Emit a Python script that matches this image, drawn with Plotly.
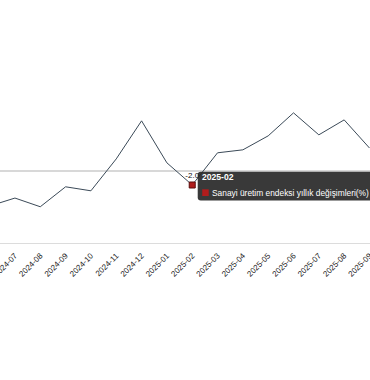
import plotly.graph_objects as go

months = ["2024-06", "2024-07", "2024-08", "2024-09", "2024-10", "2024-11", "2024-12",
          "2025-01", "2025-02", "2025-03", "2025-04", "2025-05", "2025-06", "2025-07",
          "2025-08", "2025-09"]
values = [-4.9, -3.8, -5.0, -2.25, -2.8, 1.6, 6.85, 1.06, -2.0, 2.44, 2.85, 4.78, 7.95,
          4.92, 6.98, 3.1]
series_name = "Sanayi üretim endeksi yıllık değişimleri(%)"
hover_month = "2025-02"
hover_value = values[months.index(hover_month)]

FONT = "Liberation Sans, Arial, sans-serif"

fig = go.Figure()
fig.add_trace(go.Scatter(
    x=months, y=values, mode="lines",
    line=dict(color="#3b4a58", width=1),
    hoverinfo="skip", showlegend=False,
))
# highlighted point with its data label
fig.add_trace(go.Scatter(
    x=[hover_month], y=[hover_value], mode="markers+text",
    marker=dict(symbol="square", size=6, color="#b01c1c",
                line=dict(color="#5a0d0d", width=1)),
    text=[f"{hover_value:.1f}"], textposition="top center",
    textfont=dict(family=FONT, size=8, color="#111"),
    hoverinfo="skip", showlegend=False,
))

# tooltip box (anchored to the hovered point, pixel offsets)
r = 3
x0, x1, y0, y1 = 5.5, 200, -15.5, 13.3
path = (f"M {x0+r},{y1} L {x1-r},{y1} Q {x1},{y1} {x1},{y1-r} L {x1},{y0+r} "
        f"Q {x1},{y0} {x1-r},{y0} L {x0+r},{y0} Q {x0},{y0} {x0},{y0+r} "
        f"L {x0},{y1-r} Q {x0},{y1} {x0+r},{y1} Z")
fig.add_shape(type="path", path=path, xsizemode="pixel", ysizemode="pixel",
              xanchor=hover_month, yanchor=hover_value, xref="x", yref="y",
              fillcolor="rgba(40,40,40,0.92)", line=dict(width=0), layer="above")
fig.add_shape(type="rect", xsizemode="pixel", ysizemode="pixel",
              xanchor=hover_month, yanchor=hover_value, xref="x", yref="y",
              x0=10, x1=16.5, y0=-11, y1=-4.3,
              fillcolor="#b01c1c", line=dict(width=0), layer="above")
fig.add_annotation(x=hover_month, y=hover_value, xref="x", yref="y",
                   text=f"<b>{hover_month}</b>", showarrow=False,
                   xanchor="left", yanchor="middle", xshift=8, yshift=7.7,
                   font=dict(family=FONT, size=8.6, color="#ffffff"))
fig.add_annotation(x=hover_month, y=hover_value, xref="x", yref="y",
                   text=series_name, showarrow=False,
                   xanchor="left", yanchor="middle", xshift=18, yshift=-7.7,
                   font=dict(family=FONT, size=8.4, color="#ffffff"))

fig.update_layout(
    width=370, height=380,
    margin=dict(l=0, r=0, t=98, b=137),
    paper_bgcolor="white", plot_bgcolor="white",
    xaxis=dict(type="category", range=[0.41, 15.02], showgrid=False,
               showline=True, linecolor="#dcdcdc", linewidth=1,
               tickangle=-45, ticks="", zeroline=False, automargin=False,
               ticklabelstandoff=4,
               tickfont=dict(family=FONT, size=8, color="#222")),
    yaxis=dict(range=[-10, 10], showgrid=False, showticklabels=False,
               zeroline=True, zerolinecolor="#d8d8d8", zerolinewidth=2,
               showline=False, ticks="", automargin=False),
)
fig.write_html("out.html", config={"displayModeBar": False},
               post_script="document.body.style.margin='0';")
